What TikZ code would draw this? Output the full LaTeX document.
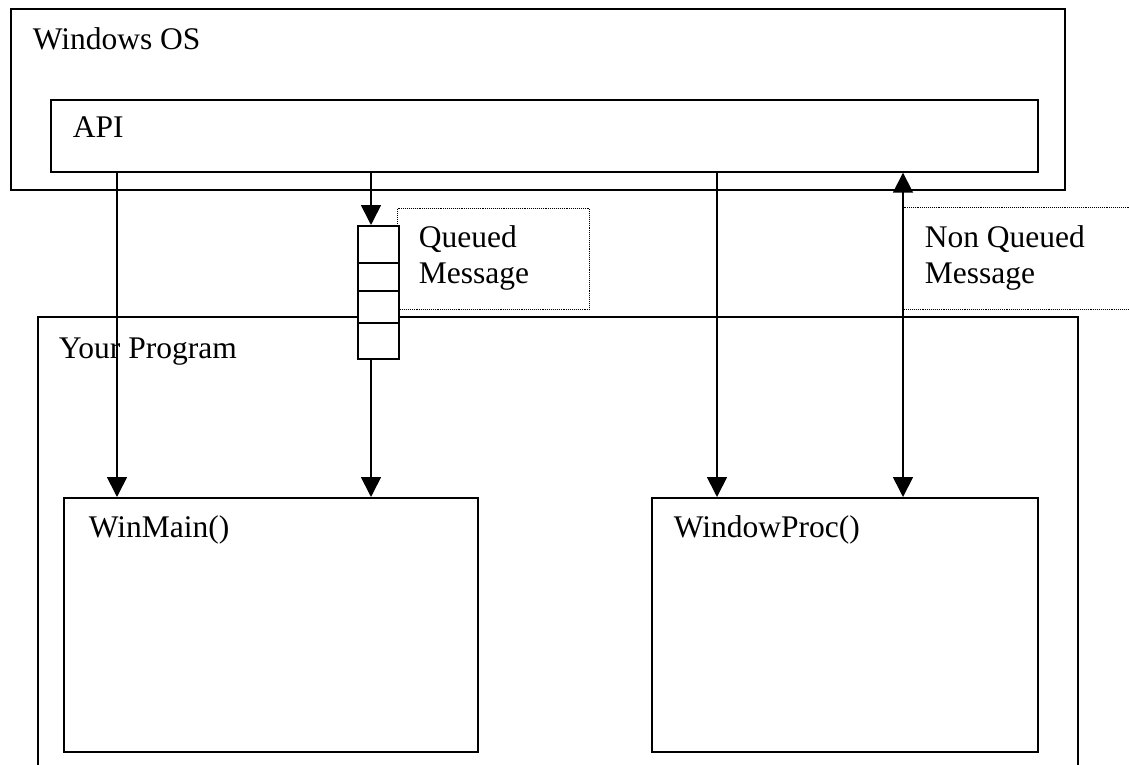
\documentclass[tikz,border=0pt]{standalone}
\usepackage{fontspec}
\setmainfont{Liberation Serif}
\usetikzlibrary{arrows.meta}

\begin{document}
\begin{tikzpicture}[x=1pt,y=-1pt,line width=1.7pt,
	box/.style={draw,rectangle,anchor=north west,inner sep=0pt},
	txt/.style={anchor=base west,inner sep=0pt,font=\fontsize{31.5}{36.5}\selectfont},
	arr/.style={-{Triangle[width=20pt,length=20pt]}},
	dotbox/.style={densely dotted,line width=1.1pt}]

	\useasboundingbox (0,0) rectangle (1129,765);
	\clip (0,0) rectangle (1129,765);

	% containers
	\node[box,minimum width=1054pt,minimum height=181pt] (os) at (10,8) {};
	\node[box,minimum width=987pt,minimum height=72pt] (api) at (50,99) {};
	\node[box,minimum width=1040pt,minimum height=500pt] (prog) at (37,316) {};
	\node[box,minimum width=414pt,minimum height=254pt] (winmain) at (63,497) {};
	\node[box,minimum width=386pt,minimum height=254pt] (winproc) at (651,497) {};

	% message notes
	\node[box,dotbox,minimum width=192pt,minimum height=101pt] (qbox) at (397,208) {};
	\node[box,dotbox,minimum width=240pt,minimum height=102pt] (nqbox) at (903,207) {};

	% arrows
	\coordinate (a1) at (117,0);
	\coordinate (a2) at (371,0);
	\coordinate (a3) at (717,0);
	\coordinate (a4) at (903,0);
	\draw[arr] (a1 |- api.south) -- (a1 |- winmain.north);
	\draw[arr] (a3 |- api.south) -- (a3 |- winproc.north);
	\draw[{Triangle[width=20pt,length=20pt]}-{Triangle[width=20pt,length=20pt]}]
		(a4 |- api.south) -- (a4 |- winproc.north);

	% queue
	\foreach \t/\h [count=\i] in {225/37,262/28,290/32,322/36}
		\node[box,fill=white,minimum width=41pt,minimum height=\h pt] (q\i) at (357,\t) {};
	\draw[arr] (a2 |- api.south) -- (a2 |- q1.north);
	\draw[arr] (a2 |- q4.south) -- (a2 |- winmain.north);

	% labels
	\node[txt] (oslbl) at (32,50) {Windows OS};
	\node[txt] (apilbl) at (72,138) {API};
	\node[txt] (qlbla) at (418,247) {Queued};
	\node[txt] (qlblb) at (418,283) {Message};
	\node[txt] (nqlbla) at (924,247) {Non Queued};
	\node[txt] (nqlblb) at (924,283) {Message};
	\node[txt] (proglbl) at (58,358) {Your Program};
	\node[txt] (wmlbl) at (88,537) {WinMain()};
	\node[txt] (wplbl) at (673,537) {WindowProc()};
\end{tikzpicture}
\end{document}
